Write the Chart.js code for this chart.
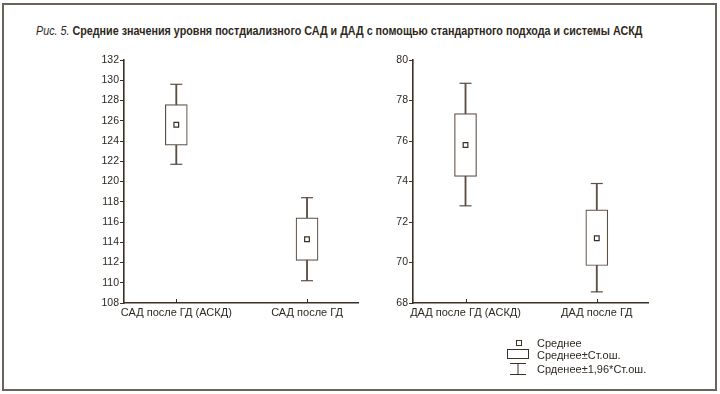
<!DOCTYPE html>
<html>
<head>
<meta charset="utf-8">
<script src="https://cdn.jsdelivr.net/npm/chart.js@4/dist/chart.umd.min.js"></script>
<style>
  html, body { margin: 0; padding: 0; background: #fff; }
  #page { position: relative; width: 720px; height: 394px; overflow: hidden; background: #fff;
          font-family: "Liberation Sans Narrow", "Arial Narrow", "Liberation Sans", sans-serif; color: #2e2820; }
  #frame { position: absolute; left: 2px; top: 3px; width: 711px; height: 384px; border: 2px solid #6b6355; }
  #title { position: absolute; left: 36px; top: 24px; font-size: 12.5px; white-space: nowrap;
           transform: scaleX(0.86); transform-origin: 0 0; }
  #title i { font-style: italic; }
  #title b { font-weight: bold; }
  canvas { position: absolute; }
  #legend { position: absolute; left: 505px; top: 336px; font-size: 11px; }
  .row { position: absolute; left: 0; height: 12px; white-space: nowrap; }
  .row span { position: absolute; left: 32px; top: 0; line-height: 12px; }
  .sym { position: absolute; }
</style>
</head>
<body>
<div id="page">
  <div id="frame"></div>
  <div id="title"><i>Рис. 5.</i> <b>Средние значения уровня постдиализного САД и ДАД с помощью стандартного подхода и системы АСКД</b></div>
  <canvas id="sad" width="300" height="285" style="left:70px; top:50px;"></canvas>
  <canvas id="dad" width="295" height="285" style="left:365px; top:50px;"></canvas>
  <div id="legend">
    <div class="row" style="top:1px;">
      <div class="sym" style="left:11px; top:3px; width:4px; height:4px; border:1px solid #3b3226;"></div>
      <span>Среднее</span>
    </div>
    <div class="row" style="top:13px;">
      <div class="sym" style="left:2px; top:0px; width:20px; height:8px; border:1px solid #3b3226;"></div>
      <span>Среднее±Ст.ош.</span>
    </div>
    <div class="row" style="top:27px;">
      <svg class="sym" style="left:4px; top:-1px;" width="18" height="14">
        <line x1="1" y1="1.5" x2="17" y2="1.5" stroke="#3b3226" stroke-width="1"/>
        <line x1="9" y1="1.5" x2="9" y2="12.5" stroke="#3b3226" stroke-width="1"/>
        <line x1="1" y1="12.5" x2="17" y2="12.5" stroke="#3b3226" stroke-width="1"/>
      </svg>
      <span>Срденее±1,96*Ст.ош.</span>
    </div>
  </div>
</div>
<script>
// САД
const sadCategories = ['САД после ГД (АСКД)', 'САД после ГД'];
const sadMean = [125.6, 114.3];
const sadBoxLow = [123.6, 112.2];
const sadBoxHigh = [127.6, 116.4];
const sadWhiskerLow = [121.7, 110.2];
const sadWhiskerHigh = [129.6, 118.4];
const sadTicks = [108, 110, 112, 114, 116, 118, 120, 122, 124, 126, 128, 130, 132];

// ДАД
const dadCategories = ['ДАД после ГД (АСКД)', 'ДАД после ГД'];
const dadMean = [75.8, 71.2];
const dadBoxLow = [74.25, 69.85];
const dadBoxHigh = [77.35, 72.6];
const dadWhiskerLow = [72.8, 68.55];
const dadWhiskerHigh = [78.85, 73.9];
const dadTicks = [68, 70, 72, 74, 76, 78, 80];

const axisColor = '#3a3024';
const boxColor = '#5c5043';
const textColor = '#2e2820';
const fontFamily = '"Liberation Sans Narrow", "Arial Narrow", "Liberation Sans", sans-serif';

// маленькие засечки по оси X внутрь графика
const innerTicks = {
    id: 'innerTicks',
    afterDraw(chart) {
        const xs = chart.scales.x;
        const ctx = chart.ctx;
        ctx.save();
        ctx.strokeStyle = axisColor;
        ctx.lineWidth = 1;
        xs.ticks.forEach((t) => {
            const px = Math.round(xs.getPixelForValue(t.value)) + 0.5;
            ctx.beginPath();
            ctx.moveTo(px, xs.top);
            ctx.lineTo(px, xs.top - 4);
            ctx.stroke();
        });
        ctx.restore();
    }
};

function makeChart(id, categories, mean, boxLow, boxHigh, whLow, whHigh, yTicks, yAxisWidth) {
    const idx = categories.map((c, i) => i);
    new Chart(document.getElementById(id), {
        type: 'scatter',
        data: {
            datasets: [
                {
                    type: 'bar',
                    label: 'whisker',
                    data: idx.map(i => ({ x: i, y: [whLow[i], whHigh[i]] })),
                    backgroundColor: boxColor,
                    borderWidth: 0,
                    barThickness: 1.2,
                    grouped: false,
                    order: 4
                },
                {
                    type: 'bar',
                    label: 'box',
                    data: idx.map(i => ({ x: i, y: [boxLow[i], boxHigh[i]] })),
                    backgroundColor: '#ffffff',
                    borderColor: boxColor,
                    borderWidth: 1.2,
                    borderSkipped: false,
                    barThickness: 22,
                    grouped: false,
                    order: 3
                },
                {
                    label: 'caps',
                    data: idx.map(i => ({ x: i, y: whLow[i] })).concat(idx.map(i => ({ x: i, y: whHigh[i] }))),
                    pointStyle: 'line',
                    pointRadius: 6,
                    borderColor: boxColor,
                    borderWidth: 1.2,
                    order: 2
                },
                {
                    label: 'mean',
                    data: idx.map(i => ({ x: i, y: mean[i] })),
                    pointStyle: 'rect',
                    pointRadius: 3.3,
                    backgroundColor: '#ffffff',
                    borderColor: axisColor,
                    borderWidth: 1.2,
                    order: 1
                }
            ]
        },
        options: {
            responsive: false,
            animation: false,
            layout: { padding: { top: 10, right: 12, left: 0, bottom: 0 } },
            plugins: { legend: { display: false }, tooltip: { enabled: false } },
            scales: {
                x: {
                    type: 'linear',
                    offset: false,
                    min: -0.4,
                    max: 1.39,
                    afterBuildTicks: (s) => { s.ticks = idx.map(i => ({ value: i })); },
                    afterFit: (s) => { s.height = 32; },
                    ticks: {
                        callback: (v) => categories[v],
                        color: textColor,
                        font: { family: fontFamily, size: 11 },
                        padding: 3,
                        maxRotation: 0,
                        autoSkip: false
                    },
                    grid: { display: false, drawTicks: false, offset: false },
                    border: { display: true, color: axisColor, width: 1.6 }
                },
                y: {
                    min: yTicks[0],
                    max: yTicks[yTicks.length - 1],
                    afterBuildTicks: (s) => { s.ticks = yTicks.map(v => ({ value: v })); },
                    afterFit: (s) => { s.width = yAxisWidth; },
                    ticks: {
                        color: textColor,
                        font: { family: fontFamily, size: 10.5 },
                        padding: 1
                    },
                    grid: { drawOnChartArea: false, drawTicks: true, tickLength: 4, color: axisColor, lineWidth: 1 },
                    border: { display: true, color: axisColor, width: 1.6 }
                }
            }
        },
        plugins: [innerTicks]
    });
}

makeChart('sad', sadCategories, sadMean, sadBoxLow, sadBoxHigh, sadWhiskerLow, sadWhiskerHigh, sadTicks, 54);
makeChart('dad', dadCategories, dadMean, dadBoxLow, dadBoxHigh, dadWhiskerLow, dadWhiskerHigh, dadTicks, 48);
</script>
</body>
</html>
